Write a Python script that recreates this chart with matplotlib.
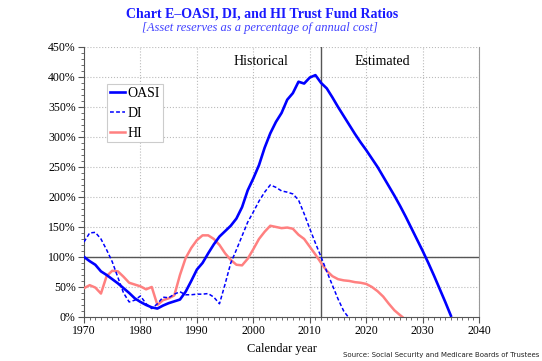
import numpy as np
import matplotlib.pyplot as plt
from matplotlib.ticker import MultipleLocator, FuncFormatter

# asset reserves as % of annual cost
oasi_years = list(range(1970, 2036))
oasi = [100, 93, 87, 76, 70, 63, 56, 48, 40, 31, 25, 20, 16, 14, 19, 23, 26, 29, 42, 60,
        79, 90, 106, 121, 134, 143, 152, 164, 183, 211, 231, 253, 282, 306, 325, 340, 362, 373, 392, 389,
        399, 403, 390, 381, 366, 350, 335, 320, 305, 291, 278, 264, 250, 234, 218, 202, 185, 167, 148, 129,
        110, 90, 69, 47, 25, 2]

di_years = list(range(1970, 2017)) + [2016.8]
di = [125, 140, 141, 130, 112, 92, 66, 40, 25, 28, 35, 22, 14, 22, 33, 32, 38, 42, 37, 37,
      38, 38, 39, 33, 22, 55, 90, 112, 135, 158, 175, 193, 208, 220, 216, 210, 208, 205, 195, 172,
      147, 123, 100, 76, 53, 30, 10, 0]

hi_years = list(range(1970, 2027)) + [2026.4]
hi = [48, 53, 49, 39, 68, 77, 76, 67, 57, 54, 51, 46, 50, 20, 28, 31, 36, 70, 98, 115,
      128, 136, 136, 130, 120, 106, 95, 87, 86, 97, 113, 130, 142, 152, 150, 148, 149, 147, 137, 130,
      117, 104, 90, 77, 68, 63, 61, 60, 58, 57, 55, 50, 43, 34, 22, 11, 3, 0]

serif = 'Liberation Serif'

fig = plt.figure(figsize=(5.42, 3.61), dpi=100)
ax = fig.add_axes([0.155, 0.122, 0.729, 0.748])

ax.plot(oasi_years, oasi, color='#0000ff', lw=1.9, label='OASI', zorder=5)
ax.plot(di_years, di, color='#0000ff', lw=1.1, ls=(0, (2.5, 1.5)), label='DI', zorder=4)
ax.plot(hi_years, hi, color='#ff8080', lw=1.8, label='HI', zorder=3)

ax.axhline(100, color='#555555', lw=1.0, zorder=2)
ax.axvline(2012, color='#555555', lw=1.0, zorder=2)

ax.set_xlim(1970, 2040)
ax.set_ylim(0, 450)
ax.xaxis.set_major_locator(MultipleLocator(10))
ax.xaxis.set_minor_locator(MultipleLocator(1))
ax.yaxis.set_major_locator(MultipleLocator(50))
ax.yaxis.set_minor_locator(MultipleLocator(10))
ax.yaxis.set_major_formatter(FuncFormatter(lambda v, p: f'{v:.0f}%'))
ax.grid(True, which='major', color='#bbbbbb', ls=':', lw=0.8)
ax.tick_params(which='major', length=4, color='#555555', labelsize=8.5, pad=2)
ax.tick_params(which='minor', length=2, color='#555555')
for lab in ax.get_xticklabels() + ax.get_yticklabels():
    lab.set_fontfamily(serif)

ax.spines['top'].set_visible(False)
ax.spines['right'].set_color('#999999')
ax.spines['left'].set_color('#555555')
ax.spines['bottom'].set_color('#555555')

ax.text(2001.3, 425, 'Historical', ha='center', va='center', fontsize=10, family=serif)
ax.text(2022.9, 425, 'Estimated', ha='center', va='center', fontsize=10, family=serif)

leg = ax.legend(loc='upper left', bbox_to_anchor=(0.058, 0.863), borderaxespad=0,
                prop={'family': serif, 'size': 10},
                handlelength=1.1, handletextpad=0.2, borderpad=0.2, labelspacing=0.5,
                fancybox=False, edgecolor='#cccccc', framealpha=1)
leg.get_frame().set_linewidth(0.8)

ax.set_xlabel('Calendar year', family=serif, fontsize=9, labelpad=4)

fig.text(0.483, 0.962, 'Chart E\u2013OASI, DI, and HI Trust Fund Ratios', ha='center', va='center',
         color='#1a1aff', fontsize=10, fontweight='bold', family=serif)
fig.text(0.479, 0.922, '[Asset reserves as a percentage of annual cost]', ha='center', va='center',
         color='#4040ff', fontsize=9, style='italic', family=serif)
fig.text(0.995, 0.008, 'Source: Social Security and Medicare Boards of Trustees', ha='right', va='bottom',
         fontsize=5, family='DejaVu Sans', color='#222222')

fig.savefig('out.png', dpi=100)
